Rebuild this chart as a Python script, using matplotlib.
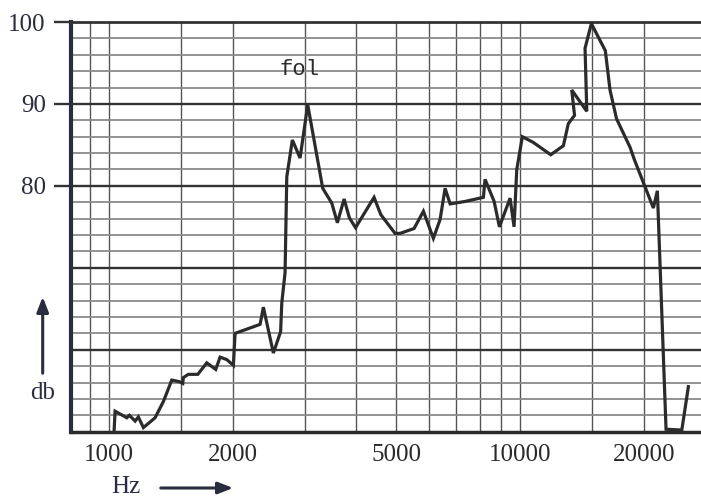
import numpy as np
import matplotlib.pyplot as plt

# spectrum (Hz, dB)
freq = [1030, 1036, 1106, 1122, 1159, 1180, 1214, 1296, 1358, 1423,
        1485, 1513, 1518, 1561, 1646, 1731, 1820, 1865, 1936, 2009,
        2028, 2333, 2376, 2513, 2617, 2634, 2683, 2709, 2795, 2918,
        3046, 3313, 3485, 3596, 3734, 3846, 3981, 4416, 4585, 4967,
        5108, 5525, 5821, 6155, 6391, 6573, 6760, 7350, 8144, 8221,
        8649, 8909, 9456, 9670, 9817, 10130, 10773, 11874, 12744, 13104,
        13567, 13356, 14530, 14389, 14908, 16120, 16548, 17161, 18515, 18964,
        21094, 21570, 22644, 24733, 25662]
level = [50.0, 52.5, 51.7, 52.0, 51.3, 51.8, 50.5, 51.7, 53.7, 56.3,
         56.1, 55.9, 56.6, 57.0, 57.0, 58.4, 57.6, 59.1, 58.8, 58.1,
         62.0, 63.1, 65.2, 59.6, 62.2, 65.7, 69.4, 81.1, 85.6, 83.4,
         89.9, 79.7, 77.9, 75.5, 78.4, 76.1, 74.9, 78.6, 76.5, 74.2,
         74.2, 74.8, 76.9, 73.6, 75.9, 79.7, 77.8, 78.1, 78.6, 80.8,
         78.1, 75.0, 78.5, 75.0, 82.0, 86.0, 85.3, 83.8, 84.9, 87.6,
         88.6, 91.7, 89.1, 96.8, 99.8, 96.5, 91.7, 88.2, 84.7, 83.2,
         77.3, 79.4, 50.3, 50.2, 55.5]

xticks = [1000, 2000, 5000, 10000, 20000]
yticks = [80, 90, 100]
vlines = [900, 1000, 1500, 2000, 3000, 4000, 5000, 6000, 7000, 8000,
          9000, 10000, 15000, 20000]

ink = '#2a2c40'
W, H = 701, 497

fig = plt.figure(figsize=(W / 100, H / 100), dpi=100)
ax = fig.add_axes([70.7 / W, 1 - 431.7 / H, 1 - 70.7 / W, (431.7 - 22) / H])
ax.set_xscale('log')
ax.set_xlim(808, 27540)
ax.set_ylim(50, 100)

# paper grid
for v in vlines:
    ax.axvline(v, color='#555555', lw=1.0, zorder=1)
for d in range(52, 100, 2):
    if d % 10:
        ax.axhline(d, color='#8a8a8a', lw=1.3, zorder=1)
    else:
        ax.axhline(d, color='#333333', lw=1.7, zorder=1)

ax.plot(freq, level, color='#2b2b2b', lw=2.3, zorder=3, solid_joinstyle='miter')

for s in ['right']:
    ax.spines[s].set_visible(False)
ax.spines['top'].set_color('#333333')
ax.spines['top'].set_linewidth(2.0)
ax.spines['left'].set_color(ink)
ax.spines['left'].set_linewidth(3.0)
ax.spines['bottom'].set_color('#2b2b2b')
ax.spines['bottom'].set_linewidth(2.5)

ax.set_xticks(xticks)
ax.set_xticklabels([str(t) for t in xticks])
ax.xaxis.set_minor_locator(plt.NullLocator())
ax.set_yticks(yticks)
ax.set_yticklabels([str(t) for t in yticks])
ax.tick_params(axis='x', length=0, pad=9, labelsize=18, labelcolor='#2a2a2a')
ax.tick_params(axis='y', length=12, width=1.7, color='#333333', pad=6,
               labelsize=18, labelcolor=ink)
for lab in ax.get_xticklabels() + ax.get_yticklabels():
    lab.set_family('Liberation Serif')

ax.text(2904, 94.2, 'fol', family='Liberation Mono', fontsize=16,
        color='#2a2a2a', ha='center', va='center', zorder=4)

# axis captions with arrows
fig.text(42.7 / W, 1 - 393 / H, 'db', family='Liberation Serif', fontsize=18,
         color=ink, ha='center', va='center')
ax.annotate('', xy=(42.7 / W, 1 - 294 / H), xytext=(42.7 / W, 1 - 376 / H),
            xycoords='figure fraction', textcoords='figure fraction',
            arrowprops=dict(arrowstyle='-|>,head_length=0.9,head_width=0.35',
                            color=ink, lw=2.2), annotation_clip=False)
fig.text(126 / W, 1 - 487 / H, 'Hz', family='Liberation Serif', fontsize=18,
         color=ink, ha='center', va='center')
ax.annotate('', xy=(236 / W, 1 - 488 / H), xytext=(158 / W, 1 - 488 / H),
            xycoords='figure fraction', textcoords='figure fraction',
            arrowprops=dict(arrowstyle='-|>,head_length=0.9,head_width=0.35',
                            color=ink, lw=2.2), annotation_clip=False)

plt.savefig('out.png', dpi=100)
